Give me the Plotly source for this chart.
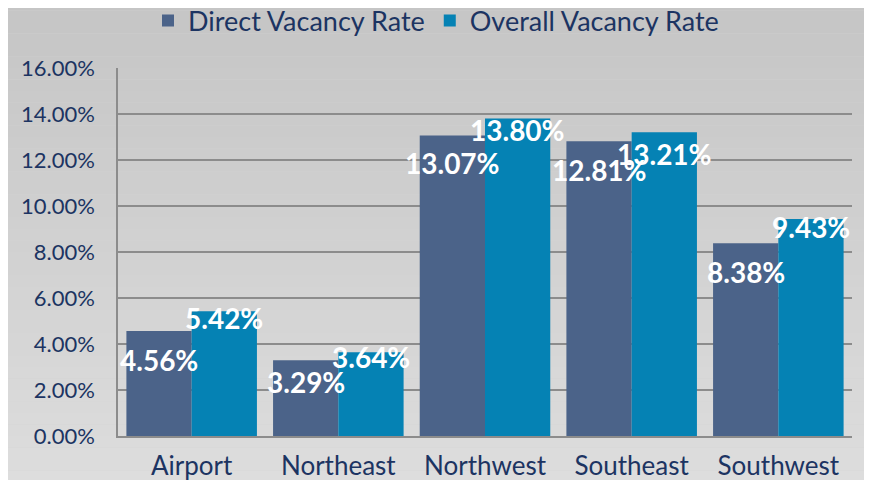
import plotly.graph_objects as go

categories = ["Airport", "Northeast", "Northwest", "Southeast", "Southwest"]
direct_rate = [4.56, 3.29, 13.07, 12.81, 8.38]
overall_rate = [5.42, 3.64, 13.80, 13.21, 9.43]
y_ticks = [0, 2, 4, 6, 8, 10, 12, 14, 16]

# label vertical offsets (px, downward from bar top)
direct_dy = [29, 22, 28, 29, 29]
overall_dy = [7, 5, 11, 22, 8]

DIRECT_C = "#4B6389"
OVERALL_C = "#0582B4"
TEXT_C = "#1C3462"
FONT = "Lato, 'Open Sans', sans-serif"

fig = go.Figure()
fig.add_bar(x=categories, y=direct_rate, name="Direct Vacancy Rate",
            marker=dict(color=DIRECT_C, line=dict(width=0)))
fig.add_bar(x=categories, y=overall_rate, name="Overall Vacancy Rate",
            marker=dict(color=OVERALL_C, line=dict(width=0)))

W, H = 856, 472
ML, MR, MT, MB = 110, 12, 60, 44
plot_w = W - ML - MR
plot_h = H - MT - MB
cat_w = plot_w / len(categories)
bargap = 0.11
bar_w = cat_w * (1 - bargap) / 2

anns = []
for i, c in enumerate(categories):
    anns.append(dict(x=c, y=direct_rate[i], xref="x", yref="y", text=f"{direct_rate[i]:.2f}%",
                     showarrow=False, xshift=-bar_w / 2, yshift=-direct_dy[i],
                     font=dict(family=FONT, size=28, color="white", weight="bold")))
    anns.append(dict(x=c, y=overall_rate[i], xref="x", yref="y", text=f"{overall_rate[i]:.2f}%",
                     showarrow=False, xshift=bar_w / 2, yshift=-overall_dy[i],
                     font=dict(family=FONT, size=28, color="white", weight="bold")))

# gradient background as thin bands
shapes = []
n = 48
top = (196, 196, 196)
bot = (223, 223, 223)
for k in range(n):
    t = k / (n - 1)
    col = tuple(round(top[j] + (bot[j] - top[j]) * t) for j in range(3))
    shapes.append(dict(type="rect", xref="paper", yref="paper",
                       x0=-0.3, x1=1.2, y0=1.25 - (k + 1) * 1.5 / n, y1=1.25 - k * 1.5 / n,
                       fillcolor="rgb(%d,%d,%d)" % col, line=dict(width=0), layer="below"))

fig.update_layout(
    width=W, height=H,
    margin=dict(l=ML, r=MR, t=MT, b=MB, autoexpand=False),
    barmode="group", bargap=bargap, bargroupgap=0,
    paper_bgcolor="#D2D2D2", plot_bgcolor="rgba(0,0,0,0)",
    font=dict(family=FONT, color=TEXT_C, size=20),
    legend=dict(orientation="h", xref="container", x=0.5, xanchor="center",
                yref="paper", y=1 + (MT - 13) / plot_h, yanchor="middle",
                font=dict(size=27, color=TEXT_C),
                itemwidth=30, traceorder="normal", bgcolor="rgba(0,0,0,0)"),
    shapes=shapes,
    annotations=anns,
    showlegend=True,
)
fig.update_yaxes(range=[0, 16], tickvals=y_ticks, ticktext=[f"{v:.2f}%" for v in y_ticks],
                 showgrid=True, gridcolor="#8C8C8C", gridwidth=1.5,
                 showline=True, linecolor="#8C8C8C", linewidth=1.5,
                 ticks="", tickfont=dict(size=22, color=TEXT_C), zeroline=False,
                 ticklabelstandoff=17)
fig.update_xaxes(showline=True, linecolor="#8C8C8C", linewidth=1.5,
                 tickfont=dict(size=26, color=TEXT_C), ticklabelstandoff=6)

fig.write_html("out.html")
